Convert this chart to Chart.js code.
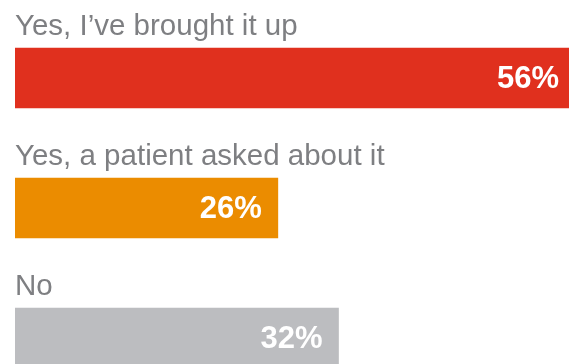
<!DOCTYPE html>
<html>
<head>
<meta charset="utf-8">
<script src="https://cdn.jsdelivr.net/npm/chart.js@4/dist/chart.umd.min.js"></script>
<style>
    html, body { margin: 0; padding: 0; background: #fff; overflow: hidden; }
    #wrap { width: 569px; height: 420px; }
</style>
</head>
<body>
<div id="wrap"><canvas id="answers" width="569" height="420"></canvas></div>
<script>
// survey answers
const categories = ['Yes, I\u2019ve brought it up', 'Yes, a patient asked about it', 'No'];
const percentValues = [56, 26, 32];

const barColors = ['#e0301e', '#eb8c00', '#bcbdc0'];
const fontFamily = '"Helvetica Neue", Helvetica, "Liberation Sans", Arial, sans-serif';

// draws the grey question text above each bar and the white % inside it
const barText = {
    id: 'barText',
    afterDatasetsDraw(chart) {
        const ctx = chart.ctx;
        const area = chart.chartArea;
        const bars = chart.getDatasetMeta(0).data;
        ctx.save();
        bars.forEach((bar, i) => {
            const top = bar.y - bar.height / 2;

            ctx.fillStyle = '#7e7f82';
            ctx.font = '29.5px ' + fontFamily;
            ctx.textAlign = 'left';
            ctx.textBaseline = 'alphabetic';
            ctx.fillText(categories[i], area.left, top - 13);

            ctx.fillStyle = '#ffffff';
            ctx.font = 'bold 31px ' + fontFamily;
            ctx.textAlign = 'right';
            ctx.textBaseline = 'middle';
            let end = Math.min(bar.x, area.right + 6);
            ctx.fillText(percentValues[i] + '%', end - 16, bar.y + 1);
        });
        ctx.restore();
    }
};

new Chart(document.getElementById('answers').getContext('2d'), {
    type: 'bar',
    data: {
        labels: categories,
        datasets: [
            {
                data: percentValues,
                backgroundColor: barColors,
                borderWidth: 0,
                barThickness: 60,
            },
        ],
    },
    options: {
        indexAxis: 'y',
        responsive: false,
        animation: false,
        layout: { padding: { left: 15, right: 0, top: 13, bottom: 17 } },
        plugins: {
            legend: { display: false },
            tooltip: { enabled: false },
        },
        scales: {
            x: { display: false, min: 0, max: 54.8 },
            y: { display: false },
        },
    },
    plugins: [barText],
});
</script>
</body>
</html>
